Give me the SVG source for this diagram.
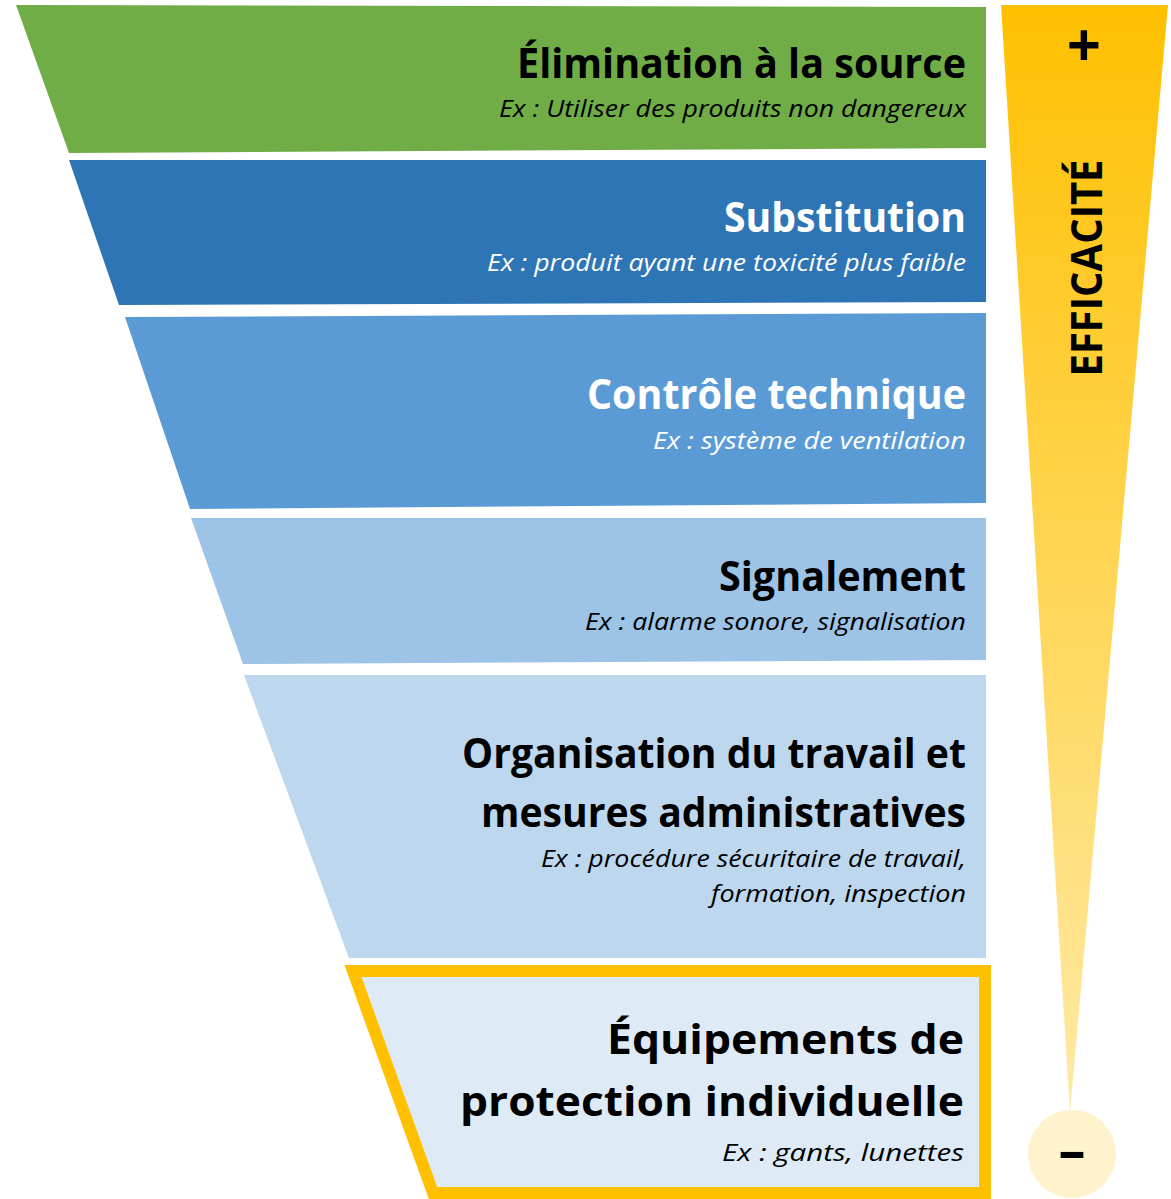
<svg xmlns="http://www.w3.org/2000/svg" width="1171" height="1199" viewBox="0 0 1171 1199">
<style>
.t{font-family:"Open Sans","Liberation Sans",sans-serif;font-weight:700;font-size:41px}
.s{font-family:"Open Sans","Liberation Sans",sans-serif;font-style:italic;font-size:24px}
.k{fill:#000}
.w{fill:#fff}
</style>
<defs>
<linearGradient id="gy" x1="0" y1="0" x2="0" y2="1">
<stop offset="0" stop-color="#FFC000"/>
<stop offset="1" stop-color="#FFEAA6"/>
</linearGradient>
</defs>
<rect width="1171" height="1199" fill="#fff"/>

<g id="elimination">
<polygon points="16,5 986,7 986,148 69,153" fill="#70AD47"/>
<text class="t k" x="517" y="78" textLength="449" lengthAdjust="spacingAndGlyphs">Élimination à la source</text>
<text class="s k" x="499" y="117" textLength="467" lengthAdjust="spacingAndGlyphs">Ex : Utiliser des produits non dangereux</text>
</g>

<g id="substitution">
<polygon points="69,160 986,160 986,302 119,305" fill="#2E75B6"/>
<text class="t w" x="724" y="232" textLength="242" lengthAdjust="spacingAndGlyphs">Substitution</text>
<text class="s w" x="487" y="271" textLength="479" lengthAdjust="spacingAndGlyphs">Ex : produit ayant une toxicité plus faible</text>
</g>

<g id="controle">
<polygon points="125,317 986,313 986,503 190,509" fill="#5B9BD5"/>
<text class="t w" x="587" y="409" textLength="379" lengthAdjust="spacingAndGlyphs">Contrôle technique</text>
<text class="s w" x="653" y="449" textLength="313" lengthAdjust="spacingAndGlyphs">Ex : système de ventilation</text>
</g>

<g id="signalement">
<polygon points="191,518 986,518 986,660 243,664" fill="#9DC3E6"/>
<text class="t k" x="719" y="591" textLength="247" lengthAdjust="spacingAndGlyphs">Signalement</text>
<text class="s k" x="585" y="630" textLength="381" lengthAdjust="spacingAndGlyphs">Ex : alarme sonore, signalisation</text>
</g>

<g id="organisation">
<polygon points="244,675 986,675 986,958 349,958" fill="#BDD7EE"/>
<text class="t k" x="462" y="768" textLength="504" lengthAdjust="spacingAndGlyphs">Organisation du travail et</text>
<text class="t k" x="481" y="827" textLength="485" lengthAdjust="spacingAndGlyphs">mesures administratives</text>
<text class="s k" x="541" y="867" textLength="425" lengthAdjust="spacingAndGlyphs">Ex : procédure sécuritaire de travail,</text>
<text class="s k" x="711" y="902" textLength="255" lengthAdjust="spacingAndGlyphs">formation, inspection</text>
</g>

<g id="epi">
<polygon points="353,971 985,971 985,1193 433,1193" fill="#DEEBF7" stroke="#FFC000" stroke-width="12" stroke-linejoin="miter"/>
<text class="t k" x="607" y="1054" textLength="357" lengthAdjust="spacingAndGlyphs">Équipements de</text>
<text class="t k" x="460" y="1116" textLength="504" lengthAdjust="spacingAndGlyphs">protection individuelle</text>
<text class="s k" x="722" y="1161" textLength="242" lengthAdjust="spacingAndGlyphs">Ex : gants, lunettes</text>
</g>

<g id="efficacite">
<polygon points="1001,5 1168,5 1070,1112" fill="url(#gy)"/>
<circle cx="1072" cy="1154" r="44" fill="#FFF2CC"/>
<text class="t k" x="1084" y="67" text-anchor="middle" style="font-size:60px">+</text>
<text class="t k" x="1072" y="1169" text-anchor="middle" style="font-size:54px">–</text>
<text class="t k" transform="translate(1102,268) rotate(-90)" x="0" y="0" text-anchor="middle" style="font-size:43px" textLength="217" lengthAdjust="spacingAndGlyphs">EFFICACITÉ</text>
</g>
</svg>
